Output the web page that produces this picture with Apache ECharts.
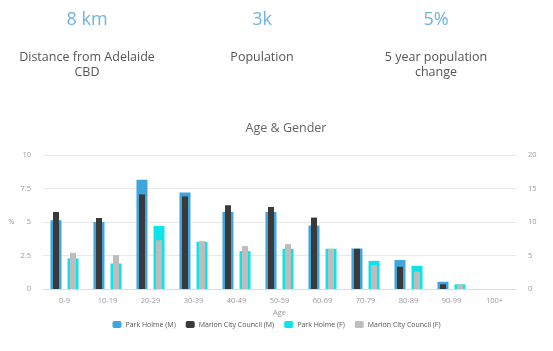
<!DOCTYPE html>
<html>
<head>
<meta charset="utf-8">
<script src="https://cdn.jsdelivr.net/npm/echarts@6/dist/echarts.min.js"></script>
<style>
  html, body { margin: 0; padding: 0; background: #fff; }
  #chart { width: 553px; height: 351px; }
</style>
</head>
<body>
<div id="chart"></div>
<script>
const ages = ["0-9", "10-19", "20-29", "30-39", "40-49", "50-59", "60-69", "70-79", "80-89", "90-99", "100+"];
const parkHolmeM = [5.13, 5.0, 8.15, 7.21, 5.75, 5.75, 4.73, 3.02, 2.16, 0.54, 0];
const marionM = [5.75, 5.3, 7.06, 6.91, 6.25, 6.12, 5.33, 3.0, 1.66, 0.35, 0];
const parkHolmeF = [2.28, 1.9, 4.7, 3.52, 2.83, 3.0, 3.0, 2.1, 1.73, 0.35, 0];
const marionF = [2.7, 2.53, 3.64, 3.57, 3.2, 3.35, 3.0, 1.78, 1.29, 0.33, 0];

const stats = [
  { value: "8 km", label: "Distance from Adelaide\nCBD", x: 82 },
  { value: "3k", label: "Population", x: 257 },
  { value: "5%", label: "5 year population\nchange", x: 431 },
];

const font = "Open Sans";
const chart = echarts.init(document.getElementById("chart"));

const titles = [];
stats.forEach((s) => {
  titles.push({
    text: s.value,
    left: s.x, top: 6, textAlign: "center",
    textStyle: { color: "#6fb3e0", fontSize: 18, fontWeight: "normal", fontFamily: font },
  });
  titles.push({
    text: s.label,
    left: s.x, top: 45, textAlign: "center",
    textStyle: { color: "#555", fontSize: 12.5, fontWeight: "normal", fontFamily: font, lineHeight: 15 },
  });
});
titles.push({
  text: "Age & Gender",
  left: 281, top: 117, textAlign: "center",
  textStyle: { color: "#666", fontSize: 12.5, fontWeight: "normal", fontFamily: font },
});

const axisLabel = { color: "#999", fontSize: 7.5, fontFamily: font };

const option = {
  animation: false,
  color: ["#3ea6dd", "#3a3a3a", "#10e3e8", "#bdbdbd"],
  title: titles,
  legend: {
    bottom: 18,
    left: "center",
    itemWidth: 9,
    itemHeight: 7,
    itemGap: 10,
    textStyle: { color: "#555", fontSize: 7, fontFamily: font, padding: [0, 0, 0, -1] },
    data: ["Park Holme (M)", "Marion City Council (M)", "Park Holme (F)", "Marion City Council (F)"],
  },
  grid: { left: 43, right: 37, top: 155, bottom: 62 },
  xAxis: [
    {
      type: "category",
      data: ages,
      name: "Age",
      nameLocation: "middle",
      nameGap: 20,
      nameTextStyle: { color: "#999", fontSize: 7.5, fontFamily: font },
      axisLine: { lineStyle: { color: "#ddd" } },
      axisTick: { lineStyle: { color: "#ddd" }, length: 4 },
      axisLabel: { ...axisLabel, margin: 8 },
    },
    { type: "category", data: ages, show: false },
  ],
  yAxis: [
    {
      type: "value",
      min: 0, max: 10, interval: 2.5,
      name: "%",
      nameLocation: "middle",
      nameGap: 26,
      nameRotate: 0,
      nameTextStyle: { color: "#999", fontSize: 7.5, fontFamily: font },
      axisLabel: { ...axisLabel, margin: 12 },
      splitLine: { lineStyle: { color: "#e8e8e8" } },
    },
    {
      type: "value",
      min: 0, max: 20, interval: 5,
      axisLabel: { ...axisLabel, margin: 12 },
      splitLine: { show: false },
    },
  ],
  series: [
    { name: "Park Holme (M)", type: "bar", data: parkHolmeM, xAxisIndex: 0, barWidth: 11, barGap: "55%" },
    { name: "Marion City Council (M)", type: "bar", data: marionM, xAxisIndex: 1, barWidth: 6, barGap: "183%", z: 3 },
    { name: "Park Holme (F)", type: "bar", data: parkHolmeF, xAxisIndex: 0, barWidth: 11, barGap: "55%" },
    { name: "Marion City Council (F)", type: "bar", data: marionF, xAxisIndex: 1, barWidth: 6, barGap: "183%", z: 3 },
  ],
};

chart.setOption(option);
</script>
</body>
</html>
